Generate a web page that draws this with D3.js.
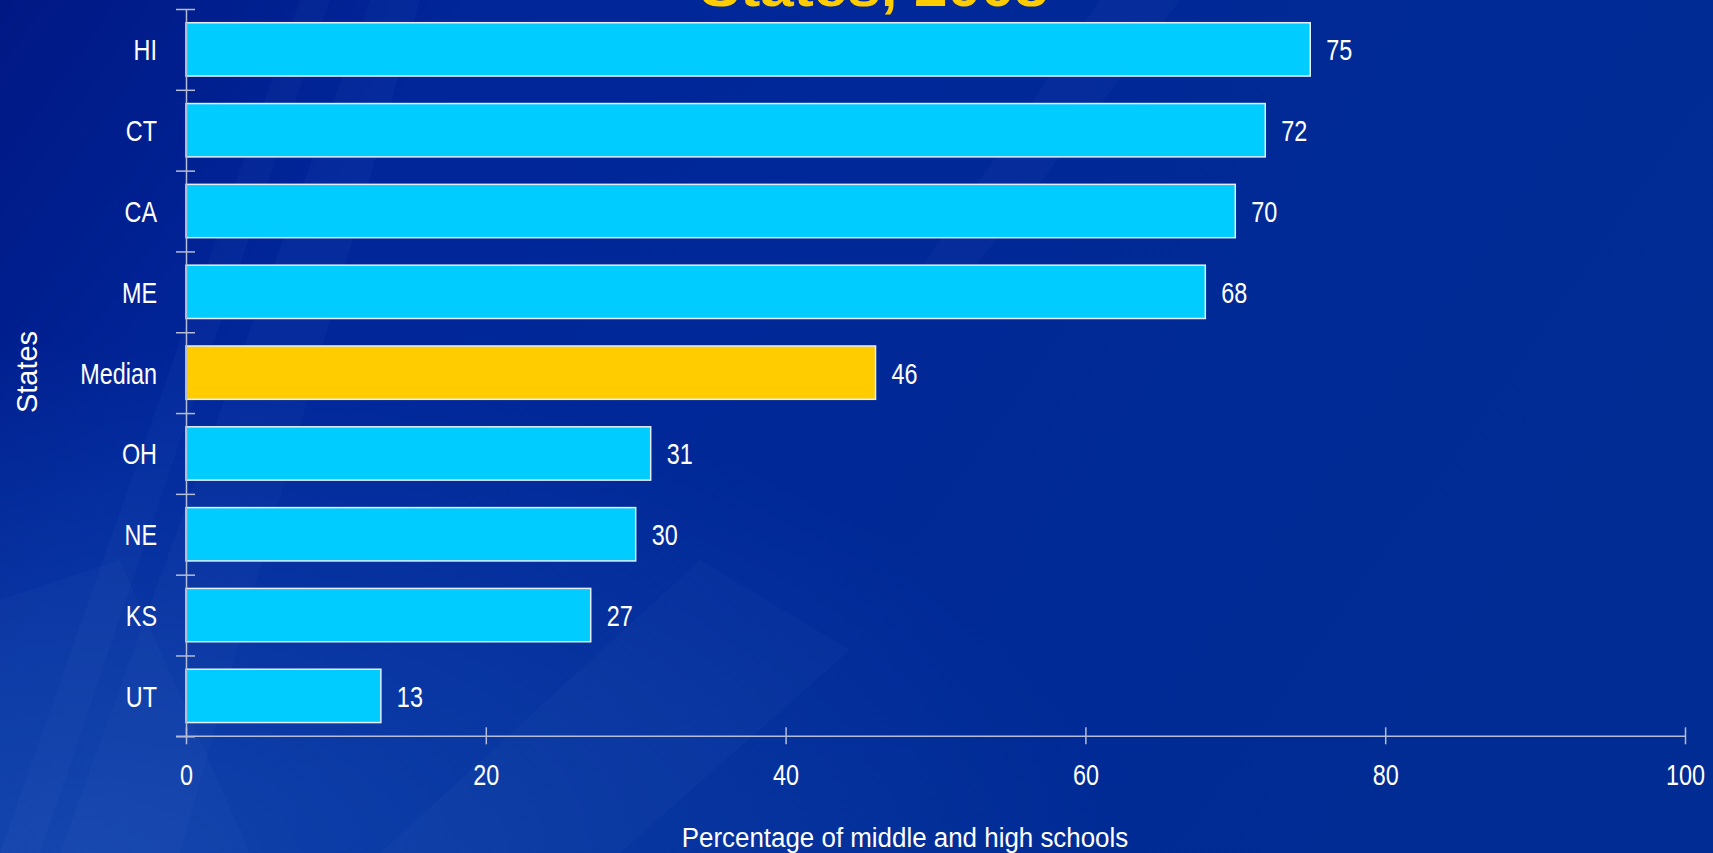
<!DOCTYPE html>
<html>
<head>
<meta charset="utf-8">
<script src="https://cdn.jsdelivr.net/npm/d3@7"></script>
<style>
  html, body { margin: 0; padding: 0; background: #002a92; overflow: hidden; }
  svg { display: block; }
  text { font-family: "Liberation Sans", Arial, sans-serif; fill: #ffffff; }
</style>
</head>
<body>
<svg id="chart" width="1713" height="853"></svg>
<script>
// Share of middle and high schools, selected states, 2008
const states = ["HI", "CT", "CA", "ME", "Median", "OH", "NE", "KS", "UT"];
const percents = [75, 72, 70, 68, 46, 31, 30, 27, 13];
const xTicks = [0, 20, 40, 60, 80, 100];
const titleText = "States, 2008";
const xTitle = "Percentage of middle and high schools";
const yTitle = "States";

const W = 1713, H = 853;
const svg = d3.select("#chart");

// ---- slide background ----
const defs = svg.append("defs");
const bg = defs.append("linearGradient").attr("id", "bg")
  .attr("x1", "0").attr("y1", "0").attr("x2", "1").attr("y2", "0.35");
bg.append("stop").attr("offset", "0").attr("stop-color", "#001884");
bg.append("stop").attr("offset", "0.25").attr("stop-color", "#00269a");
bg.append("stop").attr("offset", "1").attr("stop-color", "#002c94");
svg.append("rect").attr("width", W).attr("height", H).attr("fill", "url(#bg)");

const glow = defs.append("radialGradient").attr("id", "glow")
  .attr("cx", "0.05").attr("cy", "1").attr("r", "0.6");
glow.append("stop").attr("offset", "0").attr("stop-color", "#1a55b8").attr("stop-opacity", 0.6);
glow.append("stop").attr("offset", "1").attr("stop-color", "#1a55b8").attr("stop-opacity", 0);
svg.append("rect").attr("width", W).attr("height", H).attr("fill", "url(#glow)");

// faint diagonal rays of the slide design
const rays = [
  [[0, 853], [40, 853], [330, 0], [300, 0]],
  [[60, 853], [180, 853], [420, 0], [370, 0]],
  [[0, 600], [0, 853], [250, 853], [120, 560]],
  [[380, 853], [620, 853], [850, 650], [700, 560]],
  [[1100, 0], [1180, 0], [950, 300], [900, 300]]
];
svg.append("g").selectAll("path").data(rays).join("path")
  .attr("d", d => "M" + d.join("L") + "Z")
  .attr("fill", "#5f8fe0").attr("opacity", 0.05);

// ---- scales ----
const x = d3.scaleLinear().domain([0, 100]).range([186, 1685]);
const y = d3.scaleBand().domain(states).range([9, 736.3])
  .paddingInner(0.34).paddingOuter(0.17);
const yEdges = d3.scaleLinear().domain([0, states.length]).range([9, 736.3]);

const squeeze = 0.78;
const axisColor = "#b4bcd6";

// ---- bars ----
svg.append("g").selectAll("rect").data(states).join("rect")
  .attr("x", x(0))
  .attr("y", d => y(d))
  .attr("width", (d, i) => x(percents[i]) - x(0))
  .attr("height", y.bandwidth())
  .attr("fill", d => d === "Median" ? "#ffcc00" : "#00ccff")
  .attr("stroke", "#e4eefa")
  .attr("stroke-width", 1.5);

// value labels
svg.append("g").selectAll("text").data(states).join("text")
  .attr("transform", (d, i) =>
    `translate(${x(percents[i]) + 16},${y(d) + y.bandwidth() / 2 + 11}) scale(${squeeze},1)`)
  .attr("font-size", 30)
  .text((d, i) => percents[i]);

// ---- x axis ----
const gx = svg.append("g").attr("transform", `translate(0,${yEdges(states.length)})`)
  .call(d3.axisBottom(x).tickValues(xTicks).tickSize(8).tickSizeOuter(0).tickPadding(0));
gx.select(".domain").attr("stroke", axisColor).attr("stroke-width", 1.5)
  .attr("d", `M${x(0) - 10},0H${x(100)}`);
gx.selectAll(".tick line").attr("stroke", axisColor).attr("stroke-width", 1.5)
  .attr("y1", -9).attr("y2", 8);
gx.selectAll(".tick text")
  .attr("y", null).attr("dy", null)
  .attr("transform", `translate(0,49) scale(${squeeze},1)`)
  .attr("font-size", 30).attr("fill", "#ffffff")
  .attr("font-family", "Liberation Sans, Arial, sans-serif");

// ---- y axis: category labels at band centres ----
const gy = svg.append("g").attr("transform", `translate(${x(0)},0)`)
  .call(d3.axisLeft(y).tickSize(0).tickPadding(0));
gy.select(".domain").remove();
gy.selectAll(".tick text")
  .attr("x", null).attr("dy", null)
  .attr("transform", `translate(-29,11) scale(${squeeze},1)`)
  .attr("text-anchor", "end")
  .attr("font-size", 30).attr("fill", "#ffffff")
  .attr("font-family", "Liberation Sans, Arial, sans-serif");

// y axis line with crossing tick marks on band edges
const gyEdges = svg.append("g").attr("transform", `translate(${x(0)},0)`)
  .call(d3.axisLeft(yEdges).tickValues(d3.range(states.length + 1))
    .tickFormat("").tickSize(10).tickSizeOuter(0));
gyEdges.select(".domain").attr("stroke", axisColor).attr("stroke-width", 1.5);
gyEdges.selectAll(".tick line").attr("stroke", axisColor).attr("stroke-width", 1.5)
  .attr("x1", 9);

// ---- titles ----
svg.append("text")
  .attr("transform", `translate(905,847) scale(0.96,1)`)
  .attr("text-anchor", "middle")
  .attr("font-size", 27)
  .text(xTitle);

svg.append("text")
  .attr("transform", "translate(37,372) rotate(-90)")
  .attr("text-anchor", "middle")
  .attr("font-size", 29)
  .text(yTitle);

svg.append("text")
  .attr("x", 874).attr("y", 6)
  .attr("text-anchor", "middle")
  .attr("font-family", "DejaVu Sans, Verdana, sans-serif")
  .attr("font-weight", "bold")
  .attr("font-size", 54)
  .attr("textLength", 348)
  .attr("lengthAdjust", "spacingAndGlyphs")
  .style("fill", "#ffcc00")
  .text(titleText);
</script>
</body>
</html>
